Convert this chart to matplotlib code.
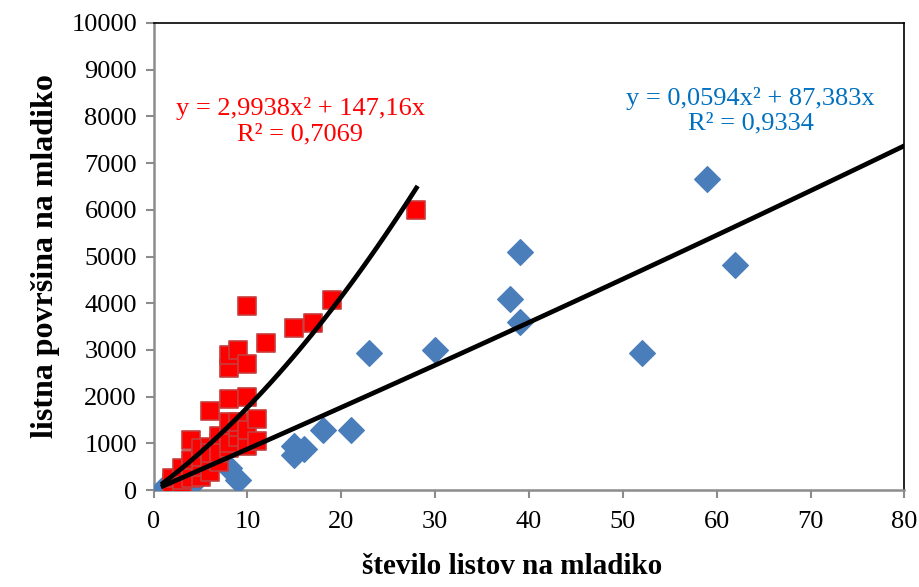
import matplotlib.pyplot as plt
import numpy as np

plt.rcParams['font.family'] = ['Liberation Serif', 'DejaVu Serif']

# blue series (diamonds)
blue_x = [1, 2, 3, 4, 8, 9, 15, 15, 16, 18, 21, 23, 30, 38, 39, 39, 52, 59, 62]
blue_y = [30, 10, 80, 120, 470, 210, 940, 750, 880, 1280, 1290, 2930, 2990, 4100, 5100, 3600, 2930, 6660, 4820]

# red series (squares)
red_x = [2, 2, 3, 3, 3, 4, 4, 4, 4, 5, 5, 5, 5, 6, 6, 6, 6, 6, 7, 7, 7, 7,
         8, 8, 8, 8, 8, 8, 8, 9, 9, 9, 9, 10, 10, 10, 10, 10, 11, 11, 12, 15, 17, 19, 28]
red_y = [150, 250, 100, 210, 470, 250, 500, 650, 1080, 280, 500, 700, 900, 380, 640, 920, 1700, 800, 600, 1000, 1150, 800,
         900, 1100, 1450, 1950, 2620, 2900, 1000, 1130, 1350, 1450, 3000, 950, 1280, 2000, 2700, 3950, 1050, 1520, 3150, 3480, 3570, 4070, 6000]

# trend lines (polynomial, through origin)
blue_coef = (0.0594, 87.383)
red_coef = (2.9938, 147.16)
blue_label = 'y = 0,0594x² + 87,383x\nR² = 0,9334'
red_label = 'y = 2,9938x² + 147,16x\nR² = 0,7069'

fig = plt.figure(figsize=(9.2, 5.87), dpi=100)
ax = fig.add_axes([0.167, 0.165, 0.816, 0.796])

ax.scatter(blue_x, blue_y, marker='D', s=170, color='#4a7ebb', edgecolors='#4a7ebb', zorder=3)
ax.scatter(red_x, red_y, marker='s', s=160, color='#ff0000', edgecolors='#c83c3c', linewidths=1.2, zorder=4)

xb = np.linspace(1, 80, 100)
ax.plot(xb, blue_coef[0] * xb ** 2 + blue_coef[1] * xb, color='black', lw=3.4, zorder=5)
xr = np.linspace(1, 28, 100)
ax.plot(xr, red_coef[0] * xr ** 2 + red_coef[1] * xr, color='black', lw=3.4, zorder=5)

ax.text(0.195, 0.79, red_label, transform=ax.transAxes, color='#ff0000',
        fontsize=19, ha='center', va='center', linespacing=1.2)
ax.text(0.795, 0.812, blue_label, transform=ax.transAxes, color='#0070c0',
        fontsize=19, ha='center', va='center', linespacing=1.2)

ax.set_xlim(0, 80)
ax.set_ylim(0, 10000)
ax.set_xticks(np.arange(0, 81, 10))
ax.set_yticks(np.arange(0, 10001, 1000))
ax.tick_params(direction='out', length=6, width=1.5, color='#8c8c8c', labelsize=19, pad=6)
ax.tick_params(axis='x', pad=9)

for side in ['left', 'bottom']:
    ax.spines[side].set_color('#8c8c8c')
    ax.spines[side].set_linewidth(1.8)
for side in ['top', 'right']:
    ax.spines[side].set_color('black')
    ax.spines[side].set_linewidth(1.2)

ax.set_xlabel('število listov na mladiko', fontsize=21, fontweight='bold')
ax.xaxis.set_label_coords(0.477, -0.135)
ax.set_ylabel('listna površina na mladiko', fontsize=23, fontweight='bold', labelpad=8)

fig.savefig('out.png', dpi=100)
